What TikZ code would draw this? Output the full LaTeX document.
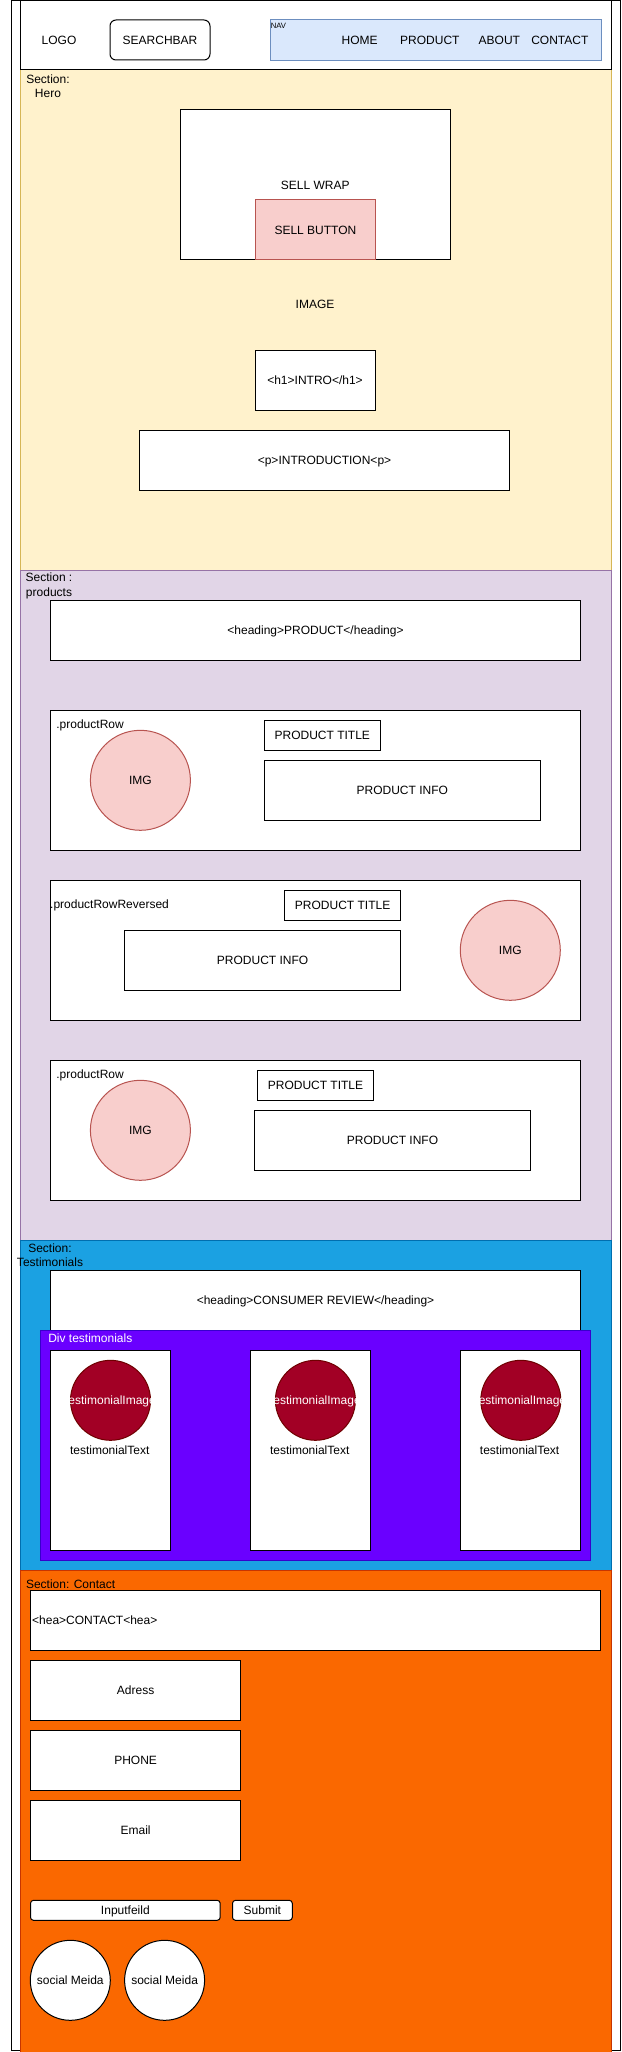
\documentclass[tikz,border=0pt]{standalone}
\usepackage{fontspec}
\setmainfont{Liberation Sans}
\definecolor{herofill}{HTML}{FFF2CC}
\definecolor{heroline}{HTML}{D6B656}
\definecolor{prodfill}{HTML}{E1D5E7}
\definecolor{prodline}{HTML}{9673A6}
\definecolor{testfill}{HTML}{1BA1E2}
\definecolor{testline}{HTML}{006EAF}
\definecolor{contfill}{HTML}{FA6800}
\definecolor{contline}{HTML}{C73500}
\definecolor{navfill}{HTML}{DAE8FC}
\definecolor{navline}{HTML}{6C8EBF}
\definecolor{redfill}{HTML}{F8CECC}
\definecolor{redline}{HTML}{B85450}
\definecolor{divfill}{HTML}{6A00FF}
\definecolor{divline}{HTML}{3700CC}
\definecolor{timgfill}{HTML}{A20025}
\definecolor{timgline}{HTML}{6F0000}
\tikzset{
  basetxt/.style={font=\fontsize{12}{14.4}\selectfont, inner sep=0pt, outer sep=0pt,
    text height=8.6pt, text depth=0pt, line width=1pt},
  wh/.style 2 args={minimum width=#1, minimum height=#2},
  frame/.style={rectangle, draw=black, fill=white},
  box/.style={rectangle, draw=black, fill=white},
  rbox/.style={box, rounded corners=6pt},
  rsmall/.style={box, rounded corners=3pt},
  navbox/.style={rectangle, draw=navline, fill=navfill},
  herost/.style={rectangle, draw=heroline, fill=herofill},
  prodst/.style={rectangle, draw=prodline, fill=prodfill},
  testst/.style={rectangle, draw=testline, fill=testfill},
  contst/.style={rectangle, draw=contline, fill=contfill},
  redbox/.style={rectangle, draw=redline, fill=redfill},
  redcirc/.style={circle, draw=redline, fill=redfill, minimum size=100pt},
  timgst/.style={circle, draw=timgline, fill=timgfill, text=white, minimum size=80pt, inner sep=-8pt},
  wcirc/.style={circle, draw=black, fill=white, minimum size=80pt},
  divst/.style={rectangle, draw=divline, fill=divfill},
  lbl/.style={anchor=west},
  mlbl/.style={align=center, anchor=north, text height={}, text depth={}},
  navlbl/.style={anchor=west, font=\fontsize{7.7}{9}\selectfont, text height=5.5pt}
}
\begin{document}
\begin{tikzpicture}[x=1pt, y=-1pt, every node/.style={basetxt}]
\useasboundingbox (0,0) rectangle (621,2052);

% outer frame
\node[frame, wh={609pt}{2049pt}] (outer) at (315.5,1025.5) {};

% Hero
\node[herost, wh={591pt}{500pt}] (hero) at (315.5,320) {};
\node[mlbl] (herolbl) at (48,74.9) {Section:\\Hero};
\node[box, wh={270pt}{150pt}] (sellwrap) at (315.3,185) {SELL WRAP};
\node[redbox, wh={120pt}{60pt}] (sellbtn) at (315.4,230) {SELL BUTTON};
\node (image) at (315,304) {IMAGE};
\node[box, wh={120pt}{60pt}] (intro) at (315,380) {<h1>INTRO</h1>};
\node[box, wh={370pt}{60pt}] (introduction) at (324.5,460) {<p>INTRODUCTION<p>};

% Products
\node[prodst, wh={591pt}{670pt}] (products) at (315.5,905) {};
\node[mlbl] (prodlbl) at (49,573.1) {Section :\\products};
\node[box, wh={530pt}{60pt}] (prodhead) at (315.5,630.2) {<heading>PRODUCT</heading>};

\node[box, wh={530pt}{140pt}] (row1) at (315.5,780.3) {};
\node[lbl] (row1lbl) at (56.4,724.3) {.productRow};
\node[redcirc] (img1) at (140.4,780.3) {IMG};
\node[box, wh={116.6pt}{30pt}] (title1) at (322.3,735.3) {PRODUCT TITLE};
\node[box, wh={276.6pt}{60pt}] (info1) at (402.3,790.3) {PRODUCT INFO};

\node[box, wh={530pt}{140pt}] (row2) at (315.5,950.3) {};
\node[lbl] (row2lbl) at (50.2,904.3) {.productRowReversed};
\node[box, wh={116.4pt}{30pt}] (title2) at (342.6,905.3) {PRODUCT TITLE};
\node[box, wh={276.4pt}{60pt}] (info2) at (262.6,960.3) {PRODUCT INFO};
\node[redcirc] (img2) at (510.3,950.3) {IMG};

\node[box, wh={530pt}{140pt}] (row3) at (315.5,1130.3) {};
\node[lbl] (row3lbl) at (56.4,1074.3) {.productRow};
\node[redcirc] (img3) at (140.4,1130.3) {IMG};
\node[box, wh={116.1pt}{30pt}] (title3) at (315.5,1085.3) {PRODUCT TITLE};
\node[box, wh={276.4pt}{60pt}] (info3) at (392.5,1140.3) {PRODUCT INFO};

% Testimonials
\node[testst, wh={591pt}{330pt}] (testimonials) at (315.5,1405) {};
\node[mlbl] (testlbl) at (50,1243.3) {Section:\\Testimonials};
\node[box, wh={530pt}{60pt}] (testhead) at (315.5,1300.3) {<heading>CONSUMER REVIEW</heading>};
\node[divst, wh={550pt}{230pt}] (divtest) at (315.5,1445.3) {};
\node[lbl, text=white] (divlbl) at (48.3,1338) {Div testimonials};

\node[box, wh={120pt}{200pt}] (card1) at (110.3,1450.3) {};
\node[timgst] (timg1) at (110.5,1400.3) {testimonialImage};
\node (ttext1) at (109.7,1449.7) {testimonialText};

\node[box, wh={120pt}{200pt}] (card2) at (310.5,1450.3) {};
\node[timgst] (timg2) at (315.4,1400.3) {testimonialImage};
\node (ttext2) at (309.7,1449.7) {testimonialText};

\node[box, wh={120pt}{200pt}] (card3) at (520.4,1450.3) {};
\node[timgst] (timg3) at (520.8,1400.3) {testimonialImage};
\node (ttext3) at (519.6,1449.7) {testimonialText};

% Contact
\node[contst, wh={591pt}{483pt}] (contact) at (315.5,1811.5) {};
\node[lbl] (contlbl) at (26,1584.3) {Section: Contact};
\node[box, wh={570.3pt}{60pt}, text width=567pt, align=left, inner xsep=1.2pt] (conthead) at (315.65,1620.3) {<hea>CONTACT<hea>};
\node[box, wh={210.3pt}{60pt}] (adress) at (135.65,1690.3) {Adress};
\node[box, wh={210.3pt}{60pt}] (phone) at (135.65,1760.3) {PHONE};
\node[box, wh={210.3pt}{60pt}] (email) at (135.65,1830.3) {Email};
\node[rsmall, wh={189.7pt}{20pt}] (input) at (125.35,1910.3) {Inputfeild};
\node[rsmall, wh={59.8pt}{20pt}] (submit) at (262.4,1910.3) {Submit};
\node[wcirc] (social1) at (70.3,1980.3) {social Meida};
\node[wcirc] (social2) at (164.6,1980.3) {social Meida};

% Header
\node[box, wh={591pt}{69pt}] (header) at (315.5,35.5) {};
\node (logo) at (59,40) {LOGO};
\node[rbox, wh={100pt}{40pt}] (search) at (160,40) {SEARCHBAR};
\node[navbox, wh={331pt}{41pt}] (nav) at (435.5,40) {};
\node[navlbl] (navlabel) at (270.8,25.7) {NAV};
\node (home) at (359.6,40) {HOME};
\node (mprod) at (429.9,40) {PRODUCT};
\node (mabout) at (499.4,40) {ABOUT};
\node (mcontact) at (559.8,40) {CONTACT};
\end{tikzpicture}
\end{document}
